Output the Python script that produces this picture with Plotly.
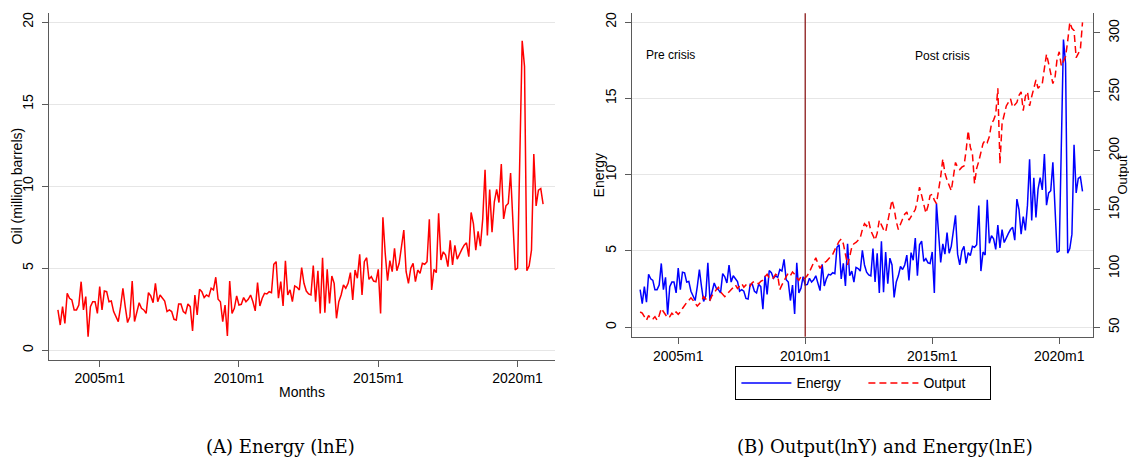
import numpy as np
import pandas as pd
import plotly.graph_objects as go

# ---------------- data ----------------
start_month = "2003-07"
end_month = "2020-12"

energy = [
    # 2003m7-2003m12
    2.46, 1.54, 2.66, 1.64, 3.47, 3.17,
    # 2004
    3.07, 2.46, 2.46, 2.76, 4.18, 2.46, 3.27, 0.83, 2.66, 2.96, 2.96, 2.25,
    # 2005
    3.88, 2.46, 3.61, 3.57, 2.96, 3.00, 2.36, 2.05, 1.75, 2.66, 3.78, 2.66,
    # 2006
    1.69, 2.05, 4.22, 1.75, 2.36, 2.90, 2.56, 2.46, 2.25, 3.51, 3.31, 2.90,
    # 2007
    4.08, 2.96, 3.37, 3.17, 3.00, 2.36, 2.46, 2.36, 1.89, 1.85, 2.82, 2.82,
    # 2008
    2.36, 2.25, 2.82, 2.66, 1.18, 3.37, 2.15, 3.72, 3.57, 3.21, 3.37, 3.27,
    # 2009
    3.78, 3.68, 4.45, 3.11, 2.96, 1.75, 2.76, 0.87, 4.22, 2.25, 2.56, 3.31,
    # 2010
    2.76, 2.80, 3.21, 2.96, 3.11, 3.37, 2.96, 2.40, 4.12, 2.70, 3.17, 3.47,
    # 2011
    3.43, 3.57, 3.51, 5.24, 5.40, 3.17, 4.18, 2.70, 5.46, 3.37, 3.68, 2.96,
    # 2012
    3.92, 3.84, 3.68, 5.04, 4.08, 3.61, 3.43, 3.37, 5.16, 2.96, 4.85, 2.25,
    # 2013
    5.64, 2.29, 4.93, 2.86, 4.53, 4.08, 1.95, 2.96, 3.37, 3.98, 3.78, 4.08,
    # 2014
    4.73, 3.07, 4.89, 4.39, 5.85, 3.37, 5.40, 5.64, 4.32, 4.49, 4.22, 4.18,
    # 2015
    4.93, 2.25, 8.10, 5.90, 4.24, 5.46, 4.79, 6.21, 4.85, 5.30, 6.42, 7.33,
    # 2016
    4.79, 4.08, 5.00, 5.30, 4.18, 4.89, 4.69, 5.30, 5.24, 5.40, 7.98, 3.68,
    # 2017
    4.93, 4.73, 8.35, 5.50, 6.00, 5.80, 5.10, 6.70, 5.20, 6.40, 5.55, 5.90,
    # 2018
    6.15, 6.40, 6.55, 5.70, 8.40, 7.70, 6.10, 7.25, 6.35, 8.00, 11.00, 7.00,
    # 2019
    9.80, 7.20, 9.05, 9.80, 9.00, 11.35, 8.00, 8.80, 8.95, 10.80, 7.30, 4.90,
    # 2020
    5.00, 12.00, 18.85, 17.30, 4.85, 5.15, 6.10, 11.95, 8.80, 9.75, 9.85, 8.90,
]

output = [
    # 2003m7-2003m12
    63, 62, 59, 56, 60, 57,
    # 2004
    57, 59, 56, 60, 66, 63, 61, 58, 59, 62, 60, 63,
    # 2005
    61, 63, 66, 69, 71, 73, 75, 73, 70, 68, 70, 72,
    # 2006
    76, 74, 75, 73, 77, 79, 82, 84, 80, 78, 76, 78,
    # 2007
    80, 82, 84, 86, 83, 85, 87, 84, 86, 87, 85, 88,
    # 2008
    89, 88, 87, 89, 90, 93, 95, 92, 91, 92, 95, 94,
    # 2009
    82, 86, 90, 93, 96, 94, 97, 95, 92, 90, 93, 91,
    # 2010
    92, 94, 97, 101, 106, 109, 104, 100, 103, 105, 106, 108,
    # 2011
    110, 112, 116, 120, 123, 125, 121, 112, 103, 110, 118, 121,
    # 2012
    122, 124, 126, 133, 138, 136, 140, 132, 128, 124, 130, 141,
    # 2013
    137, 133, 131, 140, 147, 158, 151, 140, 133, 138, 142, 146,
    # 2014
    148, 141, 144, 147, 150, 158, 169, 162, 155, 147, 153, 162,
    # 2015
    163, 158, 155, 165, 178, 193, 181, 175, 170, 166, 178, 190,
    # 2016
    186, 184, 186, 187, 200, 217, 203, 197, 172, 185, 191, 200,
    # 2017
    206, 209, 207, 212, 223, 226, 231, 253, 189, 223, 232, 238,
    # 2018
    241, 244, 237, 239, 241, 247, 250, 234, 246, 250, 238, 246,
    # 2019
    254, 260, 253, 255, 257, 270, 282, 274, 266, 257, 262, 278,
    # 2020
    284, 272, 276, 280, 293, 309, 304, 302, 279, 282, 286, 309,
]

tick_years = [2005, 2010, 2015, 2020]
tick_labels = ["2005m1", "2010m1", "2015m1", "2020m1"]
crisis_year = 2010
energy_ticks = [0, 5, 10, 15, 20]
output_ticks = [50, 100, 150, 200, 250, 300]

periods = pd.period_range(start_month, end_month, freq="M")
t = [p.year + (p.month - 1) / 12 for p in periods]
if len(t) != len(energy) or len(t) != len(output):
    raise ValueError(f"length mismatch {len(t)} {len(energy)} {len(output)}")

# ---------------- figure ----------------
W, H = 1129, 459
def px_x(v):
    return v / W
def px_y(v):
    return 1 - v / H

FONT = "Liberation Sans, Arial, sans-serif"
AXC = "#5a5a5a"
GRID = "#e6e6e6"

fig = go.Figure()

fig.add_trace(go.Scatter(x=t, y=energy, mode="lines", xaxis="x", yaxis="y",
                         line=dict(color="#ff0000", width=1.5), showlegend=False,
                         name="Energy"))
fig.add_trace(go.Scatter(x=t, y=energy, mode="lines", xaxis="x2", yaxis="y2",
                         line=dict(color="#0000ff", width=1.5), name="Energy"))
fig.add_trace(go.Scatter(x=t, y=output, mode="lines", xaxis="x2", yaxis="y3",
                         line=dict(color="#ff0000", width=1.5, dash="7px,4px"),
                         name="Output"))

xr = [2003.18, 2021.33]
common_x = dict(range=xr, tickvals=tick_years, ticktext=tick_labels,
                showgrid=False, zeroline=False, showline=True, linecolor=AXC,
                linewidth=1.2, ticks="outside", ticklen=6, tickcolor=AXC,
                tickfont=dict(family=FONT, size=14, color="#000"),
                automargin=False)
common_y = dict(tickvals=energy_ticks, showgrid=True, gridcolor=GRID, gridwidth=1,
                zeroline=False, showline=True, linecolor=AXC, linewidth=1.2,
                ticks="outside", ticklen=6, tickcolor=AXC, tickangle=-90,
                ticklabelstandoff=3,
                tickfont=dict(family=FONT, size=14, color="#000"),
                automargin=False)

fig.update_layout(
    width=W, height=H,
    margin=dict(l=0, r=0, t=0, b=0, autoexpand=False),
    paper_bgcolor="white", plot_bgcolor="white",
    font=dict(family=FONT, size=14, color="#000"),
    xaxis=dict(domain=[px_x(49), px_x(554.6)], anchor="y", **common_x),
    yaxis=dict(domain=[px_y(359.5), px_y(13.3)], anchor="x", range=[-0.56, 20.53], **common_y),
    xaxis2=dict(domain=[px_x(632), px_x(1093)], anchor="y2", **common_x),
    yaxis2=dict(domain=[px_y(336.7), px_y(13.3)], anchor="x2", range=[-0.62, 20.57], **common_y),
    yaxis3=dict(overlaying="y2", side="right", anchor="x2", range=[42.0, 316.7],
                tickvals=output_ticks, showgrid=False, zeroline=False, showline=True,
                linecolor=AXC, linewidth=1.2, ticks="outside", ticklen=6, tickcolor=AXC,
                tickangle=-90, ticklabelstandoff=2,
                tickfont=dict(family=FONT, size=14, color="#000"),
                automargin=False),
    legend=dict(orientation="h", x=px_x(863.4), y=px_y(383.3), xanchor="center",
                yanchor="middle", bordercolor="#000", borderwidth=1, bgcolor="white",
                font=dict(family=FONT, size=14, color="#000"), entrywidth=62,
                itemwidth=50, tracegroupgap=0),
)

# vertical crisis line
fig.add_shape(type="line", xref="x2", yref="y2 domain", x0=crisis_year, x1=crisis_year,
              y0=0, y1=1, line=dict(color="#8b1a1a", width=1.3))

def label(text, x, y, size=14, angle=0, family=FONT):
    return dict(text=text, x=px_x(x), y=px_y(y), xref="paper", yref="paper",
                xanchor="center", yanchor="middle", textangle=angle,
                showarrow=False, font=dict(family=family, size=size, color="#000"))

CAP = "DejaVu Serif, serif"
ann = [
    label("Oil (million barrels)", 17, 186.5, angle=-90),
    label("Months", 301.6, 391.7),
    label("Energy", 599.4, 175, angle=-90),
    label("Output", 1121.5, 175, size=13, angle=-90),
    label("Pre crisis", 670.9, 55, size=12),
    label("Post crisis", 942, 56, size=12),
    label("(A) Energy (lnE)", 280, 446, size=18, family=CAP),
    label("(B) Output(lnY) and Energy(lnE)", 885, 446, size=18, family=CAP),
]
fig.update_layout(annotations=ann)

fig.write_html(
    "out.html",
    config={"displayModeBar": False},
    post_script=(
        "document.body.style.margin='0';"
        "document.body.style.overflow='hidden';"
        "document.documentElement.style.overflow='hidden';"
    ),
)
